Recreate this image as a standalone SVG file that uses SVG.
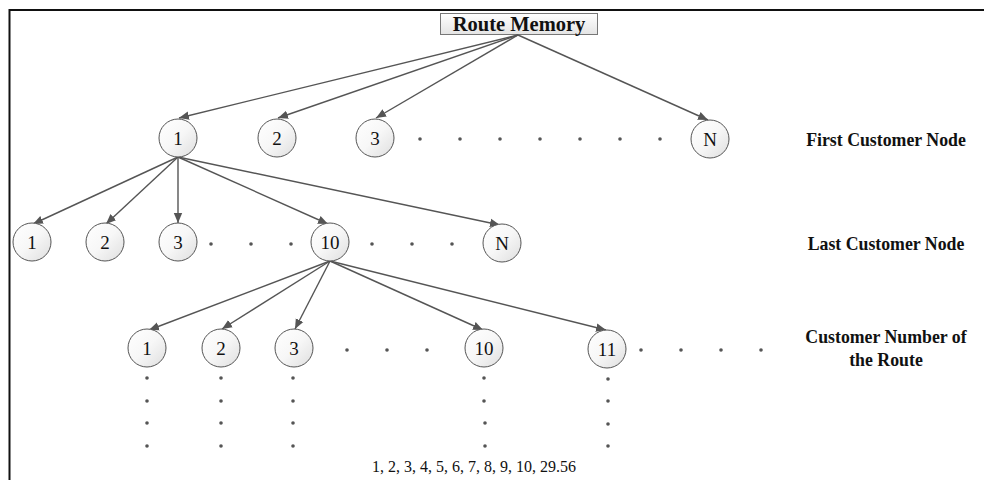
<svg xmlns="http://www.w3.org/2000/svg" width="984" height="480" viewBox="0 0 984 480">
  <defs>
    <linearGradient id="nodeFill" x1="0" y1="0" x2="1" y2="1">
      <stop offset="0" stop-color="#ffffff"/>
      <stop offset="0.5" stop-color="#f7f7f7"/>
      <stop offset="1" stop-color="#dedede"/>
    </linearGradient>
    <linearGradient id="boxFill" x1="0" y1="0" x2="0" y2="1">
      <stop offset="0" stop-color="#ffffff"/>
      <stop offset="1" stop-color="#e4e4e4"/>
    </linearGradient>
    <marker id="arrow" viewBox="0 0 10 10" refX="10" refY="5" markerWidth="10" markerHeight="10" markerUnits="userSpaceOnUse" orient="auto">
      <path d="M0,0.8 L10,5 L0,9.2 Z" fill="#555555"/>
    </marker>
    <style>
      .frame { stroke: #111111; stroke-width: 2; fill: none; }
      .node circle { fill: url(#nodeFill); stroke: #555555; stroke-width: 1; }
      .node text { font-family: "Liberation Serif", "Times New Roman", serif; font-size: 19px; fill: #111111; text-anchor: middle; }
      .box rect { fill: url(#boxFill); stroke: #777777; stroke-width: 1; }
      .box text { font-family: "Liberation Serif", "Times New Roman", serif; font-size: 20.5px; font-weight: bold; fill: #111111; text-anchor: middle; }
      .edge { stroke: #555555; stroke-width: 1.4; fill: none; marker-end: url(#arrow); }
      .dot { fill: #555555; }
      .label { font-family: "Liberation Serif", "Times New Roman", serif; font-size: 17.8px; font-weight: bold; fill: #111111; text-anchor: middle; }
      .caption { font-family: "Liberation Serif", "Times New Roman", serif; font-size: 16px; fill: #111111; text-anchor: middle; }
    </style>
  </defs>

  <rect width="984" height="480" fill="#ffffff"/>
  <!-- outer frame: top and left edges -->
  <path class="frame" d="M9.5,480 V10 H984"/>

  <!-- root -->
  <g id="route-memory" class="box">
    <rect x="440.5" y="13.5" width="157" height="21"/>
    <text x="519" y="30.5">Route Memory</text>
  </g>

  <!-- connectors -->
  <g id="connectors">
    <line class="edge" x1="518" y1="35" x2="179" y2="118"/>
    <line class="edge" x1="518" y1="35" x2="278" y2="118"/>
    <line class="edge" x1="518" y1="35" x2="376" y2="118"/>
    <line class="edge" x1="518" y1="35" x2="708" y2="120"/>

    <line class="edge" x1="178" y1="157" x2="33" y2="224"/>
    <line class="edge" x1="178" y1="157" x2="106" y2="224"/>
    <line class="edge" x1="178" y1="157" x2="178" y2="223"/>
    <line class="edge" x1="178" y1="157" x2="328" y2="224"/>
    <line class="edge" x1="178" y1="157" x2="500" y2="225"/>

    <line class="edge" x1="330" y1="261" x2="149" y2="330"/>
    <line class="edge" x1="330" y1="261" x2="222" y2="329"/>
    <line class="edge" x1="330" y1="261" x2="295" y2="329"/>
    <line class="edge" x1="330" y1="261" x2="483" y2="330"/>
    <line class="edge" x1="330" y1="261" x2="606" y2="330"/>
  </g>

  <!-- first customer nodes -->
  <g id="f1" class="node"><circle cx="178" cy="138" r="19"/><text x="178" y="145">1</text></g>
  <g id="f2" class="node"><circle cx="277" cy="138" r="19"/><text x="277" y="145">2</text></g>
  <g id="f3" class="node"><circle cx="375" cy="138" r="19"/><text x="375" y="145">3</text></g>
  <g id="fN" class="node"><circle cx="710" cy="139" r="19"/><text x="710" y="146">N</text></g>

  <!-- last customer nodes -->
  <g id="l1" class="node"><circle cx="32" cy="242" r="19"/><text x="32" y="249">1</text></g>
  <g id="l2" class="node"><circle cx="105" cy="242" r="19"/><text x="105" y="249">2</text></g>
  <g id="l3" class="node"><circle cx="178" cy="242" r="19"/><text x="178" y="249">3</text></g>
  <g id="l10" class="node"><circle cx="330" cy="242" r="19"/><text x="330" y="249">10</text></g>
  <g id="lN" class="node"><circle cx="502" cy="243" r="19"/><text x="502" y="250">N</text></g>

  <!-- customer count nodes -->
  <g id="c1" class="node"><circle cx="147" cy="348" r="19"/><text x="147" y="355">1</text></g>
  <g id="c2" class="node"><circle cx="221" cy="348" r="19"/><text x="221" y="355">2</text></g>
  <g id="c3" class="node"><circle cx="294" cy="348" r="19"/><text x="294" y="355">3</text></g>
  <g id="c10" class="node"><circle cx="484" cy="348" r="19"/><text x="484" y="355">10</text></g>
  <g id="c11" class="node"><circle cx="607" cy="349" r="19"/><text x="607" y="356">11</text></g>

  <!-- ellipsis dots -->
  <g id="ellipses">
    <circle class="dot" cx="420" cy="139" r="1.8"/>
    <circle class="dot" cx="460" cy="139" r="1.8"/>
    <circle class="dot" cx="500" cy="139" r="1.8"/>
    <circle class="dot" cx="540" cy="139" r="1.8"/>
    <circle class="dot" cx="580" cy="139" r="1.8"/>
    <circle class="dot" cx="620" cy="139" r="1.8"/>
    <circle class="dot" cx="660" cy="139" r="1.8"/>

    <circle class="dot" cx="211" cy="244" r="1.8"/>
    <circle class="dot" cx="251" cy="244" r="1.8"/>
    <circle class="dot" cx="291" cy="244" r="1.8"/>
    <circle class="dot" cx="372" cy="244" r="1.8"/>
    <circle class="dot" cx="412" cy="244" r="1.8"/>
    <circle class="dot" cx="452" cy="244" r="1.8"/>

    <circle class="dot" cx="347" cy="350" r="1.8"/>
    <circle class="dot" cx="387" cy="350" r="1.8"/>
    <circle class="dot" cx="427" cy="350" r="1.8"/>
    <circle class="dot" cx="641" cy="350" r="1.8"/>
    <circle class="dot" cx="681" cy="350" r="1.8"/>
    <circle class="dot" cx="721" cy="350" r="1.8"/>
    <circle class="dot" cx="761" cy="350" r="1.8"/>

    <circle class="dot" cx="147" cy="378" r="1.8"/>
    <circle class="dot" cx="147" cy="401" r="1.8"/>
    <circle class="dot" cx="147" cy="423" r="1.8"/>
    <circle class="dot" cx="147" cy="446" r="1.8"/>
    <circle class="dot" cx="221" cy="378" r="1.8"/>
    <circle class="dot" cx="221" cy="401" r="1.8"/>
    <circle class="dot" cx="221" cy="423" r="1.8"/>
    <circle class="dot" cx="221" cy="446" r="1.8"/>
    <circle class="dot" cx="293" cy="378" r="1.8"/>
    <circle class="dot" cx="293" cy="401" r="1.8"/>
    <circle class="dot" cx="293" cy="423" r="1.8"/>
    <circle class="dot" cx="293" cy="446" r="1.8"/>
    <circle class="dot" cx="484" cy="378" r="1.8"/>
    <circle class="dot" cx="484" cy="401" r="1.8"/>
    <circle class="dot" cx="485" cy="423" r="1.8"/>
    <circle class="dot" cx="485" cy="446" r="1.8"/>
    <circle class="dot" cx="608" cy="379" r="1.8"/>
    <circle class="dot" cx="608" cy="401" r="1.8"/>
    <circle class="dot" cx="608" cy="424" r="1.8"/>
    <circle class="dot" cx="608" cy="446" r="1.8"/>
  </g>

  <!-- level labels -->
  <text class="label" x="886" y="146">First Customer Node</text>
  <text class="label" x="886" y="250">Last Customer Node</text>
  <text class="label" x="886" y="343">Customer Number of</text>
  <text class="label" x="886" y="366">the Route</text>

  <text class="caption" x="474" y="472">1, 2, 3, 4, 5, 6, 7, 8, 9, 10, 29.56</text>
</svg>
